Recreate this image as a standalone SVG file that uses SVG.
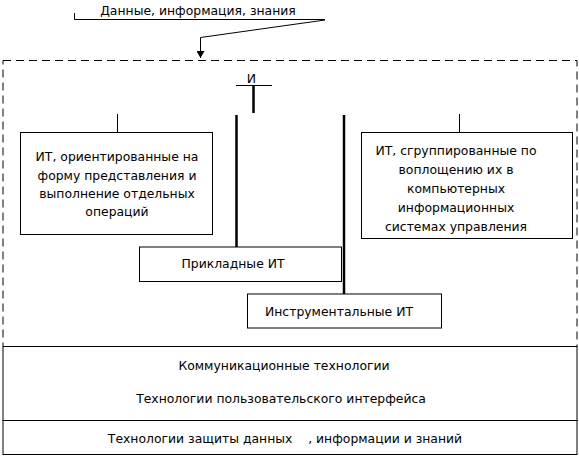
<svg xmlns="http://www.w3.org/2000/svg" width="579" height="457" viewBox="0 0 579 457">
<style>
text{font-family:"DejaVu Sans","Liberation Sans",sans-serif;font-size:12.4px;fill:#000;text-anchor:middle}
.box{fill:#fff;stroke:#000;stroke-width:1}
.thin{stroke:#000;stroke-width:1;fill:none}
.thick{stroke:#000;stroke-width:2.5;fill:none}
.dash{fill:none;stroke:#000;stroke-width:1;stroke-dasharray:8,5}
</style>
<defs>
<marker id="arr" markerWidth="8" markerHeight="8" refX="7" refY="4" orient="auto" markerUnits="userSpaceOnUse">
<path d="M0,0 L7,4 L0,8 Z" fill="#000"/>
</marker>
</defs>
<rect x="3" y="60.5" width="574" height="286" class="dash"/>
<g id="source">
<path d="M74.5,13 V19.5 H325" class="thin"/>
<text x="198" y="15">Данные, информация, знания</text>
</g>
<g id="root">
<text x="251.5" y="83">И</text>
<path d="M236,85.5 H272" class="thin"/>
</g>
<g id="connectors">
<path d="M325,20 L200.5,37.5 V58" class="thin" marker-end="url(#arr)"/>
<path d="M253.5,85 V113" class="thick"/>
<path d="M236.5,115 V247" class="thick"/>
<path d="M344,115 V294" class="thick"/>
<path d="M117.5,114 V132" class="thin"/>
<path d="M459.5,114 V132" class="thin"/>
</g>
<g id="left">
<rect x="20.5" y="132.5" width="192" height="102" class="box"/>
<text x="117" y="161">ИТ, ориентированные на</text>
<text x="117" y="180">форму представления и</text>
<text x="117" y="198">выполнение отдельных</text>
<text x="117" y="216">операций</text>
</g>
<g id="right">
<rect x="361.5" y="132.5" width="211" height="106" class="box"/>
<text x="456" y="155">ИТ, сгруппированные по</text>
<text x="456" y="174">воплощению их в</text>
<text x="456" y="193">компьютерных</text>
<text x="456" y="212">информационных</text>
<text x="456" y="231">системах управления</text>
</g>
<g id="applied">
<rect x="139.5" y="247" width="202" height="34.5" class="box"/>
<text x="233" y="268">Прикладные ИТ</text>
</g>
<g id="tools">
<rect x="247.5" y="294" width="194" height="34" class="box"/>
<text x="339" y="316">Инструментальные ИТ</text>
</g>
<g id="comm">
<rect x="3" y="346.5" width="574" height="74" class="box"/>
<text x="284" y="370">Коммуникационные технологии</text>
<text x="281" y="403">Технологии пользовательского интерфейса</text>
</g>
<g id="security">
<rect x="3" y="420.5" width="574" height="34" class="box"/>
<text x="285" y="443" xml:space="preserve" style="white-space:pre">Технологии защиты данных    , информации и знаний</text>
</g>
</svg>
